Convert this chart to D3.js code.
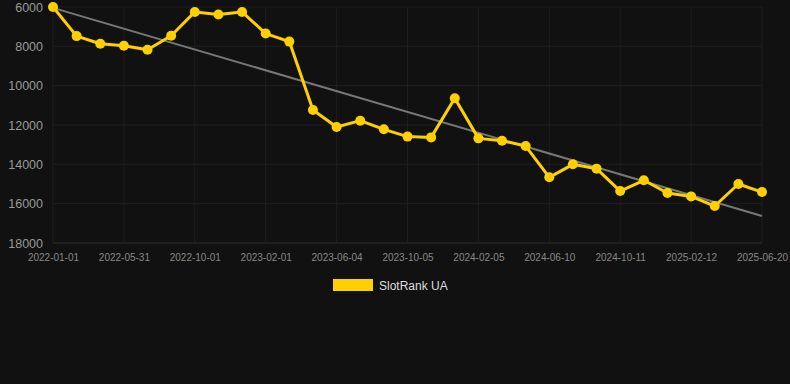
<!DOCTYPE html>
<html>
<head>
<meta charset="utf-8">
<script src="https://cdn.jsdelivr.net/npm/d3@7"></script>
<style>
  html, body { margin: 0; padding: 0; background: #111111; }
  svg { display: block; }
</style>
</head>
<body>
<svg id="chart" width="790" height="384"></svg>
<script>
const categories = [
  "2022-01-01","2022-02-20","2022-04-11","2022-05-31","2022-07-11","2022-08-21",
  "2022-10-01","2022-11-11","2022-12-22","2023-02-01","2023-03-14","2023-04-24",
  "2023-06-04","2023-07-15","2023-08-25","2023-10-05","2023-11-15","2023-12-26",
  "2024-02-05","2024-03-17","2024-04-29","2024-06-10","2024-07-21","2024-08-31",
  "2024-10-11","2024-11-21","2025-01-01","2025-02-12","2025-03-25","2025-05-08",
  "2025-06-20"
];
const rankValues = [
  6000, 7480, 7870, 7970, 8170, 7460,
  6250, 6380, 6250, 7350, 7760, 11240,
  12100, 11780, 12220, 12590, 12630, 10640,
  12680, 12800, 13070, 14660, 14000, 14220,
  15360, 14810, 15460, 15630, 16120, 15000,
  15410
];
const yTicks = [6000, 8000, 10000, 12000, 14000, 16000, 18000];
const seriesName = "SlotRank UA";

const svg = d3.select("#chart");
const margin = { left: 53, right: 28, top: 7, bottom: 141 };
const W = 790, H = 384;
const x = d3.scalePoint().domain(categories).range([margin.left, W - margin.right]);
const y = d3.scaleLinear().domain([6000, 18000]).range([margin.top, H - margin.bottom]);

const labelCats = categories.filter((d, i) => i % 3 === 0);

// grid
const g = svg.append("g");
g.selectAll(".hg").data(yTicks).enter().append("line")
  .attr("x1", margin.left).attr("x2", W - margin.right)
  .attr("y1", d => y(d)).attr("y2", d => y(d))
  .attr("stroke", d => d === 18000 ? "#2e2e2e" : "#1f1f1f").attr("stroke-width", 1);
g.selectAll(".vg").data(labelCats).enter().append("line")
  .attr("x1", d => x(d)).attr("x2", d => x(d))
  .attr("y1", margin.top).attr("y2", y(18000))
  .attr("stroke", "#1f1f1f").attr("stroke-width", 1);

// y axis
const yAxis = d3.axisLeft(y).tickValues(yTicks).tickSize(0).tickPadding(10).tickFormat(d3.format("d"));
const ya = svg.append("g").attr("transform", `translate(${margin.left},0)`).call(yAxis);
ya.select(".domain").remove();
ya.selectAll("text").attr("fill", "#999").attr("font-size", 12.5)
  .attr("font-family", "'Liberation Sans', Arial, sans-serif");

// x axis
const xAxis = d3.axisBottom(x).tickValues(labelCats).tickSize(0).tickPadding(11);
const xa = svg.append("g").attr("transform", `translate(0,${y(18000)})`).call(xAxis);
xa.select(".domain").remove();
xa.selectAll("line").remove();
xa.selectAll("text").attr("fill", "#888").attr("font-size", 10)
  .attr("font-family", "'Liberation Sans', Arial, sans-serif");

// trend line (least squares on index)
const n = rankValues.length;
const xs = d3.range(n);
const mx = d3.mean(xs), my = d3.mean(rankValues);
const slope = d3.sum(xs, i => (i - mx) * (rankValues[i] - my)) / d3.sum(xs, i => (i - mx) ** 2);
const icpt = my - slope * mx;
svg.append("line")
  .attr("x1", x(categories[0])).attr("y1", y(icpt))
  .attr("x2", x(categories[n - 1])).attr("y2", y(icpt + slope * (n - 1)))
  .attr("stroke", "#777").attr("stroke-width", 2);

// series line
const line = d3.line().x((d, i) => x(categories[i])).y(d => y(d));
svg.append("path").datum(rankValues)
  .attr("d", line).attr("fill", "none")
  .attr("stroke", "#FFD000").attr("stroke-width", 3).attr("stroke-linejoin", "round");
svg.selectAll(".pt").data(rankValues).enter().append("circle")
  .attr("cx", (d, i) => x(categories[i])).attr("cy", d => y(d))
  .attr("r", 5).attr("fill", "#FFD000");

// legend
const lg = svg.append("g");
lg.append("rect").attr("x", 333).attr("y", 279).attr("width", 40).attr("height", 12).attr("fill", "#FFD000");
lg.append("text").attr("x", 379).attr("y", 289.5).text(seriesName)
  .attr("fill", "#ddd").attr("font-size", 12).attr("font-family", "'Liberation Sans', Arial, sans-serif");
</script>
</body>
</html>
